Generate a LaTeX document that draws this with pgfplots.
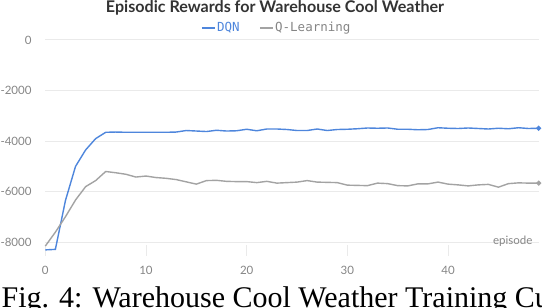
\documentclass[border=0pt]{standalone}
\usepackage{fontspec}
\setmainfont{Lato}
\newfontfamily\capfont{Liberation Serif}
\newfontfamily\monofont{DejaVu Sans Mono}
\usepackage{pgfplots}
\pgfplotsset{compat=1.18}
\usepackage{pgfplotstable}
\definecolor{dqnblue}{HTML}{4E86DC}
\definecolor{qlgray}{HTML}{A3A3A3}
\definecolor{gridgray}{HTML}{EAEAEA}
\definecolor{labgray}{HTML}{858585}
\definecolor{titlegray}{HTML}{333333}

\pgfplotstableread{
ep dqn ql
0 -8300 -8150
1 -8280 -7600
2 -6350 -6990
3 -5000 -6330
4 -4350 -5800
5 -3900 -5560
6 -3650 -5200
7 -3640 -5250
8 -3650 -5310
9 -3650 -5420
10 -3650 -5380
11 -3650 -5440
12 -3650 -5470
13 -3640 -5520
14 -3580 -5610
15 -3600 -5700
16 -3620 -5560
17 -3570 -5550
18 -3600 -5590
19 -3590 -5600
20 -3530 -5600
21 -3590 -5640
22 -3520 -5590
23 -3520 -5660
24 -3540 -5640
25 -3580 -5620
26 -3580 -5560
27 -3520 -5620
28 -3580 -5630
29 -3540 -5640
30 -3530 -5740
31 -3510 -5750
32 -3480 -5760
33 -3490 -5660
34 -3480 -5680
35 -3530 -5760
36 -3530 -5770
37 -3550 -5690
38 -3540 -5690
39 -3470 -5620
40 -3490 -5700
41 -3500 -5730
42 -3480 -5770
43 -3500 -5730
44 -3520 -5710
45 -3490 -5820
46 -3510 -5680
47 -3470 -5650
48 -3500 -5660
49 -3490 -5660
}\datatable

\begin{document}
\begin{tikzpicture}
\path[use as bounding box, clip] (0,0) rectangle (542pt,308pt);
\node[anchor=base west, inner sep=0pt, font=\capfont\fontsize{30}{31}\selectfont] at (1.5pt,0.8pt) {Fig. 4: Warehouse Cool Weather Training Curves};
\node[anchor=center, inner sep=0pt, font=\bfseries\fontsize{16.1}{18}\selectfont, text=titlegray] at (275pt,300.5pt) {Episodic Rewards for Warehouse Cool Weather};
\begin{axis}[
  at={(45.3pt,51.8pt)}, anchor=south west,
  scale only axis, width=493.4pt, height=216.2pt,
  xmin=0, xmax=49, ymin=-8550, ymax=0,
  axis line style={draw=none},
  xtick={0,10,20,30,40}, xticklabels={0,10,20,30,40},
  ytick={0,-2000,-4000,-6000,-8000}, yticklabels={0,-2000,-4000,-6000,-8000},
  tick align=inside,
  xtick pos=bottom, ytick pos=left,
  major tick length=11pt,
  xtick style={draw=gridgray, line width=0.8pt},
  ytick style={draw=none},
  ymajorgrids, grid style={draw=gridgray, line width=1pt},
  ticklabel style={font=\fontsize{11.5}{13}\selectfont, text=labgray, inner sep=0pt},
  xticklabel style={anchor=center, yshift=-13.8pt},
  yticklabel style={anchor=east, xshift=-13.6pt},
  clip=false,
  legend style={at={(0.4676,1.0555)}, anchor=center, draw=none, fill=none,
    legend columns=2, font=\monofont\fontsize{12.5}{14}\selectfont,
    /tikz/every even column/.append style={column sep=18pt},
    inner sep=0pt, nodes={inner sep=1pt}},
  legend cell align=left,
  legend image code/.code={\draw[line width=2.5pt,#1] (0pt,0pt) -- (13pt,0pt);},
]
\addplot[dqnblue, line width=1.4pt, mark=*, mark size=1.8pt, mark indices={50}] table[x=ep, y=dqn] {\datatable};
\addlegendentry{\textcolor{dqnblue}{DQN}}
\addplot[qlgray, line width=1.4pt, mark=*, mark size=1.8pt, mark indices={50}] table[x=ep, y=ql] {\datatable};
\addlegendentry{\textcolor{labgray}{Q-Learning}}
\node[anchor=east, inner sep=0pt, font=\fontsize{11.5}{13}\selectfont, text=labgray] at (axis cs:48.4,-7950) {episode};
\end{axis}
\end{tikzpicture}
\end{document}
